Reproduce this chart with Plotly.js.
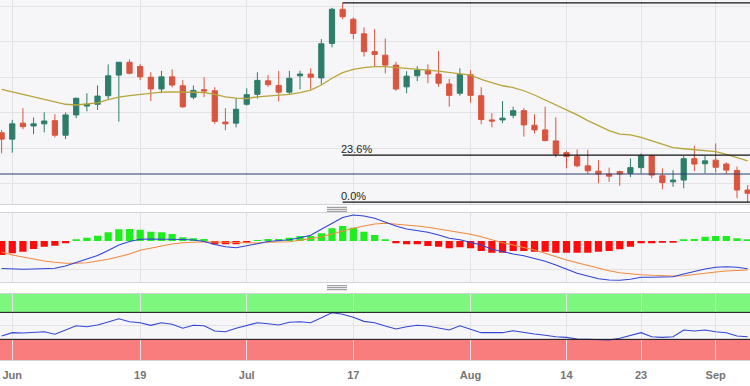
<!DOCTYPE html>
<html>
<head>
<meta charset="utf-8">
<script src="https://cdn.plot.ly/plotly-3.0.1.min.js"></script>
<style>html,body{margin:0;padding:0;background:#fff;}#chart{width:750px;height:386px;}</style>
</head>
<body>
<div id="chart"></div>
<script>
const dates = ['2023-05-31','2023-06-01','2023-06-02','2023-06-05','2023-06-06','2023-06-07','2023-06-08','2023-06-09','2023-06-12','2023-06-13','2023-06-14','2023-06-15','2023-06-16','2023-06-19','2023-06-20','2023-06-21','2023-06-22','2023-06-23','2023-06-26','2023-06-27','2023-06-28','2023-06-29','2023-06-30','2023-07-03','2023-07-04','2023-07-05','2023-07-06','2023-07-07','2023-07-10','2023-07-11','2023-07-12','2023-07-13','2023-07-14','2023-07-17','2023-07-18','2023-07-19','2023-07-20','2023-07-21','2023-07-24','2023-07-25','2023-07-26','2023-07-27','2023-07-28','2023-07-31','2023-08-01','2023-08-02','2023-08-03','2023-08-04','2023-08-07','2023-08-08','2023-08-09','2023-08-10','2023-08-11','2023-08-14','2023-08-15','2023-08-16','2023-08-17','2023-08-18','2023-08-21','2023-08-22','2023-08-23','2023-08-24','2023-08-25','2023-08-28','2023-08-29','2023-08-30','2023-08-31','2023-09-01','2023-09-04','2023-09-05','2023-09-06'];

const openP = [1.2744,1.2726,1.2771,1.2763,1.2769,1.2778,1.2737,1.2794,1.2819,1.2824,1.2848,1.2906,1.2942,1.2930,1.2900,1.2867,1.2901,1.2876,1.2844,1.2865,1.2862,1.2774,1.2771,1.2824,1.2852,1.2890,1.2877,1.2858,1.2904,1.2909,1.2898,1.2995,1.3091,1.3063,1.3022,1.2972,1.2962,1.2934,1.2873,1.2904,1.2920,1.2909,1.2881,1.2855,1.2907,1.2848,1.2780,1.2780,1.2793,1.2806,1.2765,1.2752,1.2721,1.2688,1.2677,1.2651,1.2636,1.2628,1.2635,1.2630,1.2646,1.2679,1.2623,1.2606,1.2611,1.2671,1.2657,1.2667,1.2656,1.2638,1.2583];
const highP = [1.2752,1.2780,1.2813,1.2787,1.2801,1.2796,1.2801,1.2842,1.2855,1.2877,1.2936,1.2943,1.2950,1.2937,1.2914,1.2918,1.2922,1.2892,1.2877,1.2900,1.2872,1.2813,1.2842,1.2869,1.2914,1.2906,1.2918,1.2918,1.2918,1.2925,1.3007,1.3095,1.3109,1.3068,1.3040,1.3035,1.3009,1.2943,1.2917,1.2931,1.2936,1.2974,1.2895,1.2925,1.2920,1.2872,1.2799,1.2833,1.2817,1.2813,1.2796,1.2817,1.2787,1.2693,1.2697,1.2696,1.2667,1.2646,1.2637,1.2672,1.2686,1.2681,1.2644,1.2639,1.2679,1.2707,1.2679,1.2714,1.2661,1.2649,1.2597];
const lowP = [1.2686,1.2688,1.2754,1.2740,1.2745,1.2731,1.2726,1.2785,1.2804,1.2808,1.2836,1.2775,1.2908,1.2892,1.2833,1.2855,1.2872,1.2814,1.2838,1.2844,1.2769,1.2751,1.2759,1.2820,1.2840,1.2873,1.2832,1.2852,1.2866,1.2866,1.2880,1.2984,1.3063,1.3007,1.2958,1.2930,1.2911,1.2862,1.2855,1.2889,1.2883,1.2873,1.2817,1.2848,1.2828,1.2768,1.2759,1.2771,1.2785,1.2733,1.2742,1.2720,1.2675,1.2644,1.2647,1.2628,1.2602,1.2606,1.2595,1.2619,1.2630,1.2616,1.2585,1.2592,1.2588,1.2636,1.2630,1.2632,1.2629,1.2560,1.2549];
const closeP = [1.2726,1.2769,1.2761,1.2769,1.2777,1.2737,1.2794,1.2841,1.2824,1.2847,1.2904,1.2942,1.2911,1.2901,1.2867,1.2901,1.2878,1.2817,1.2863,1.2861,1.2776,1.2769,1.2810,1.2851,1.2891,1.2879,1.2858,1.2897,1.2909,1.2900,1.2994,1.3091,1.3070,1.3023,1.2972,1.2964,1.2934,1.2867,1.2903,1.2920,1.2909,1.2883,1.2849,1.2908,1.2849,1.2781,1.2777,1.2785,1.2806,1.2766,1.2752,1.2722,1.2684,1.2677,1.2651,1.2637,1.2628,1.2622,1.2628,1.2646,1.2679,1.2625,1.2604,1.2611,1.2671,1.2656,1.2665,1.2647,1.2639,1.2583,1.2574];
const ma20 = [1.2866,1.2859,1.2852,1.2845,1.2839,1.2830,1.2824,1.2822,1.2824,1.2828,1.2837,1.2844,1.2848,1.2852,1.2855,1.2858,1.2859,1.2859,1.2858,1.2857,1.2852,1.2845,1.2841,1.2840,1.2845,1.2847,1.2849,1.2852,1.2857,1.2864,1.2878,1.2897,1.2913,1.2922,1.2927,1.2930,1.2930,1.2928,1.2925,1.2923,1.2920,1.2917,1.2914,1.2911,1.2906,1.2894,1.2885,1.2876,1.2871,1.2862,1.2850,1.2836,1.2822,1.2810,1.2794,1.2778,1.2763,1.2750,1.2740,1.2738,1.2731,1.2722,1.2712,1.2702,1.2699,1.2696,1.2694,1.2691,1.2683,1.2675,1.2665];

const macdLine = [-0.00275,-0.0028,-0.00282,-0.0028,-0.00277,-0.00273,-0.0025,-0.00215,-0.00185,-0.00145,-0.00095,-0.0004,-0.00005,0.00017,0.0002,0.0002,0.0002,0.00015,0.0001,-0.00005,-0.00035,-0.00058,-0.00067,-0.0005,-0.00028,-0.00005,0.00003,0.00012,0.00032,0.00058,0.00117,0.00177,0.00235,0.0026,0.0025,0.00227,0.00187,0.0015,0.0012,0.00103,0.00087,0.0006,0.00027,0.00013,-0.0001,-0.0004,-0.00083,-0.0011,-0.0013,-0.00147,-0.00173,-0.00203,-0.0024,-0.00283,-0.00323,-0.0035,-0.00377,-0.0039,-0.00393,-0.00383,-0.00363,-0.00363,-0.00363,-0.00357,-0.0033,-0.00303,-0.0028,-0.00263,-0.00257,-0.00263,-0.00277];
const signalLine = [-0.0011,-0.0014,-0.0016,-0.00183,-0.002,-0.00213,-0.00223,-0.00223,-0.00217,-0.002,-0.00183,-0.00157,-0.0013,-0.00093,-0.0007,-0.00047,-0.0003,-0.00017,-0.0001,-0.00007,-0.0001,-0.00013,-0.00017,-0.00023,-0.0002,-0.00013,-0.0001,-0.00007,0.00007,0.0002,0.0004,0.0007,0.001,0.00127,0.0015,0.0017,0.00177,0.0017,0.0016,0.0015,0.00137,0.0012,0.00103,0.00087,0.00067,0.00043,0.0001,-0.00017,-0.0004,-0.00063,-0.0009,-0.00123,-0.00157,-0.0019,-0.00217,-0.00243,-0.00273,-0.00297,-0.00317,-0.0033,-0.00337,-0.00343,-0.00347,-0.0035,-0.00347,-0.00333,-0.00323,-0.0031,-0.003,-0.00293,-0.0029];
const macdHist = [-0.0014,-0.00123,-0.00107,-0.0008,-0.00057,-0.00047,-0.00023,0.00017,0.00033,0.00053,0.00087,0.00117,0.0012,0.00113,0.00093,0.00087,0.0007,0.00037,0.00027,0.0002,-0.00033,-0.00033,-0.00033,-0.00017,0.0001,0.0002,0.0002,0.00033,0.0005,0.0005,0.00077,0.00127,0.0015,0.00133,0.00093,0.0006,0.00017,-0.00023,-0.00033,-0.00033,-0.0005,-0.00057,-0.00073,-0.00063,-0.00073,-0.001,-0.00117,-0.00117,-0.001,-0.001,-0.00107,-0.00107,-0.00117,-0.00117,-0.00117,-0.00117,-0.00107,-0.001,-0.00083,-0.00057,-0.00023,-0.00023,-0.00017,-0.00017,0.00017,0.0002,0.00043,0.0005,0.0005,0.00027,0.00017];
const rsi14 = [35.0,39.9,39.4,39.9,41.3,37.5,43.9,50.2,48.7,51.3,55.7,60.6,56.1,54.7,50.8,54.7,52.3,46.4,50.8,50.2,42.4,41.3,46.4,50.8,54.7,53.2,51.3,55.3,56.1,54.7,62.1,69.5,67.1,62.7,56.7,54.7,49.8,45.3,48.7,50.8,49.8,47.3,43.9,50.2,44.9,39.9,39.9,39.9,42.8,39.9,37.9,36.0,33.9,33.0,30.5,30.1,29.0,29.0,31.6,35.4,39.9,33.9,33.0,33.9,43.9,42.4,43.9,41.3,39.9,35.0,33.9];

const supportLevel = 1.2628;
const tickDates = ['2023-06-01','2023-06-19','2023-07-03','2023-07-17','2023-08-01','2023-08-14','2023-08-23','2023-09-01'];
const tickLabels = ['Jun','19','Jul','17','Aug','14','23','Sep'];

const swingHigh = Math.max(...highP);
const swingLow = Math.min(...lowP);
const peakIdx = highP.indexOf(swingHigh);
const fib236 = swingLow + 0.236 * (swingHigh - swingLow);

const UP = '#2e7d6b', DOWN = '#d9553f';
const traces = [
  {type:'candlestick', x:dates, open:openP, high:highP, low:lowP, close:closeP, xaxis:'x', yaxis:'y',
   increasing:{line:{color:UP,width:1}, fillcolor:UP}, decreasing:{line:{color:DOWN,width:1}, fillcolor:DOWN},
   whiskerwidth:0, hoverinfo:'skip'},
  {type:'scatter', mode:'lines', x:dates, y:ma20, xaxis:'x', yaxis:'y', line:{color:'#b7a53c', width:1.3}, hoverinfo:'skip'},
  {type:'bar', x:dates, y:macdHist, xaxis:'x', yaxis:'y2', width:0.68,
   marker:{color:macdHist.map(v => v >= 0 ? '#1cef1c' : '#ff0b0b'), line:{width:0}}, hoverinfo:'skip'},
  {type:'scatter', mode:'lines', x:dates, y:signalLine, xaxis:'x', yaxis:'y2', line:{color:'#f08a3e', width:1.1}, hoverinfo:'skip'},
  {type:'scatter', mode:'lines', x:dates, y:macdLine, xaxis:'x', yaxis:'y2', line:{color:'#2f45d4', width:1.1}, hoverinfo:'skip'},
  {type:'scatter', mode:'lines', x:dates, y:rsi14, xaxis:'x', yaxis:'y3', line:{color:'#3447d2', width:1.1}, hoverinfo:'skip'}
];

const GRID = '#e3e3e7', BORDER = '#d3d3d8';
const handle = (yc) => [-2, 0, 2].map(d => ({type:'line', xref:'paper', yref:'paper',
  x0:327/750, x1:347/750, y0:(360-(yc+d))/360, y1:(360-(yc+d))/360, line:{color:'#8a8a8a', width:1}}));

const shapes = [
  {type:'rect', xref:'paper', yref:'y3', x0:0, x1:1, y0:70, y1:100, fillcolor:'#7ef77e', line:{width:0}, layer:'below'},
  {type:'rect', xref:'paper', yref:'y3', x0:0, x1:1, y0:-5, y1:30, fillcolor:'#f97d7d', line:{width:0}, layer:'below'},
  {type:'line', xref:'paper', yref:'y3', x0:0, x1:1, y0:70, y1:70, line:{color:'#111', width:1}},
  {type:'line', xref:'paper', yref:'y3', x0:0, x1:1, y0:30, y1:30, line:{color:'#111', width:1}},
  {type:'line', xref:'paper', yref:'y', x0:0, x1:1, y0:supportLevel, y1:supportLevel, line:{color:'#2c3d6c', width:1.2}},
  {type:'line', xref:'x', yref:'y', x0:peakIdx, x1:75, y0:swingHigh, y1:swingHigh, line:{color:'#111', width:1.3}},
  {type:'line', xref:'x', yref:'y', x0:peakIdx, x1:75, y0:fib236, y1:fib236, line:{color:'#111', width:1.3}},
  {type:'line', xref:'x', yref:'y', x0:peakIdx, x1:75, y0:swingLow, y1:swingLow, line:{color:'#111', width:1.3}},
  ...handle(209.3), ...handle(287.7)
];

const annotations = [
  {xref:'x', yref:'y', x:peakIdx, y:fib236, text:'23.6%', showarrow:false, xanchor:'left', yanchor:'bottom', xshift:-4, yshift:-2,
   font:{family:'Liberation Sans, Arial, sans-serif', size:11, color:'#222'}},
  {xref:'x', yref:'y', x:peakIdx, y:swingLow, text:'0.0%', showarrow:false, xanchor:'left', yanchor:'bottom', xshift:-4, yshift:-2,
   font:{family:'Liberation Sans, Arial, sans-serif', size:11, color:'#222'}}
];

const layout = {
  width:750, height:386, margin:{l:0, r:0, t:0, b:26},
  paper_bgcolor:'#ffffff', plot_bgcolor:'#f6f6f8',
  showlegend:false, hovermode:false, bargap:0.3,
  xaxis:{type:'category', range:[-0.15, 70.22], anchor:'y3',
    tickvals:tickDates, ticktext:tickLabels, showgrid:true, gridcolor:GRID,
    showline:true, linecolor:BORDER, mirror:'all', ticks:'outside', ticklen:5, tickcolor:'rgba(0,0,0,0)',
    tickfont:{family:'Liberation Sans, Arial, sans-serif', size:11, color:'#747474', weight:'bold'},
    rangeslider:{visible:false}, fixedrange:true},
  yaxis:{domain:[0.4325, 1], range:[1.25429, 1.3117], tick0:1.26, dtick:0.01, showticklabels:false,
    gridcolor:GRID, zeroline:false, showline:false, fixedrange:true},
  yaxis2:{domain:[0.2175, 0.4083], range:[-0.00407, 0.0028], tickvals:[-0.0028, 0.0028], showticklabels:false,
    gridcolor:GRID, zeroline:false, showline:false, fixedrange:true},
  yaxis3:{domain:[0, 0.1833], range:[-0.6, 97.2], tickvals:[50], showticklabels:false,
    gridcolor:GRID, zeroline:false, showline:false, fixedrange:true},
  shapes:shapes, annotations:annotations
};

Plotly.newPlot('chart', traces, layout, {staticPlot:true, displayModeBar:false});
</script>
</body>
</html>
